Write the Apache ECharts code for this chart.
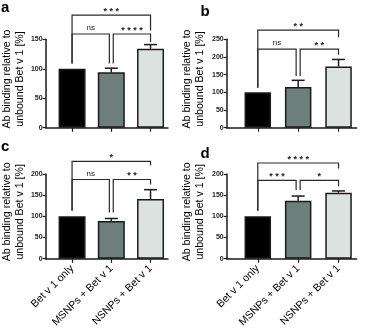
<!DOCTYPE html>
<html><head><meta charset="utf-8">
<script src="https://cdn.jsdelivr.net/npm/echarts@6/dist/echarts.min.js"></script>
<style>html,body{margin:0;padding:0;background:#fff}#c{width:367px;height:330px}</style>
</head><body><div id="c"></div>
<script>
const categories = ['Bet v 1 only', 'MSNPs + Bet v 1', 'NSNPs + Bet v 1'];
const yTitle = 'Ab binding relative to\nunbound Bet v 1 [%]';
const panelLetters = ['a', 'b', 'c', 'd'];

// Panel a
const meansA = [100, 94, 134];
const errA = [0, 7, 7];
const yMaxA = 150;
const bracketsA = [[0, 2, 191, 109, 165], [0, 0.95, 159, 109, 109], [1.05, 2, 159, 109, 145]];
const sigA = ['***', 'ns', '****'];
// Panel b
const meansB = [100, 115, 173];
const errB = [0, 19, 20];
const yMaxB = 250;
const bracketsB = [[0, 2, 276, 113, 256], [0, 0.95, 222, 113, 146], [1.05, 2, 222, 146, 206]];
const sigB = ['**', 'ns', '**'];
// Panel c
const meansC = [100, 89, 141];
const errC = [0, 6, 22];
const yMaxC = 200;
const bracketsC = [[0, 2, 230, 113, 220], [0, 0.95, 187, 113, 109], [1.05, 2, 187, 109, 175]];
const sigC = ['*', 'ns', '**'];
// Panel d
const meansD = [100, 137, 156];
const errD = [0, 11, 4];
const yMaxD = 200;
const bracketsD = [[0, 2, 226, 113, 213], [0, 0.95, 185, 113, 162], [1.05, 2, 185, 162, 171]];
const sigD = ['****', '***', '*'];

const yInterval = 50;
const barColors = ['#000000', '#6e7e7b', '#dbe2e0'];
const FONT = 'Liberation Sans, Arial, sans-serif';
const INK = '#1a1a1a';

const panels = [
  {means: meansA, err: errA, yMax: yMaxA, br: bracketsA, sig: sigA, showX: false,
   grid: {left: 41.7, top: 39.3, width: 126.3, height: 88.4}, xMin: -0.675, xMax: 2.445, bw: 27, gap: 14,
   letter: {left: 1, top: 0}},
  {means: meansB, err: errB, yMax: yMaxB, br: bracketsB, sig: sigB, showX: false,
   grid: {left: 226.7, top: 39.3, width: 130, height: 88.4}, xMin: -0.77, xMax: 2.45, bw: 26.5, gap: 20,
   letter: {left: 200.5, top: 4}},
  {means: meansC, err: errC, yMax: yMaxC, br: bracketsC, sig: sigC, showX: true,
   grid: {left: 41.7, top: 174, width: 126.3, height: 88.7}, xMin: -0.675, xMax: 2.445, bw: 27, gap: 16,
   letter: {left: 1, top: 139}},
  {means: meansD, err: errD, yMax: yMaxD, br: bracketsD, sig: sigD, showX: true,
   grid: {left: 226.7, top: 174, width: 130, height: 88.7}, xMin: -0.77, xMax: 2.45, bw: 26.5, gap: 20,
   letter: {left: 200.5, top: 146.5}}
];

const option = {animation: false, backgroundColor: '#fff', grid: [], xAxis: [], yAxis: [], series: [], title: []};

panels.forEach((p, k) => {
  option.title.push({text: panelLetters[k], left: p.letter.left, top: p.letter.top, padding: 0,
    textStyle: {fontFamily: FONT, fontSize: 15, fontWeight: 'bold', color: '#000'}});
  option.grid.push(Object.assign({containLabel: false}, p.grid));
  option.xAxis.push({
    type: 'value', gridIndex: k, min: p.xMin, max: p.xMax,
    splitLine: {show: false},
    axisLine: {show: true, onZero: false, lineStyle: {color: INK, width: 1.5}},
    axisTick: {show: true, customValues: [0, 1, 2], length: 4, lineStyle: {color: INK, width: 1.2}},
    axisLabel: {show: p.showX, customValues: [0, 1, 2], rotate: 45, margin: 8,
      fontFamily: FONT, fontSize: 10.6, color: '#000',
      formatter: v => categories[Math.round(v)] || ''}
  });
  option.yAxis.push({
    type: 'value', gridIndex: k, min: 0, max: p.yMax, interval: yInterval,
    splitLine: {show: false},
    axisLine: {show: true, onZero: false, lineStyle: {color: INK, width: 1.5}},
    axisTick: {show: true, length: 3, lineStyle: {color: INK, width: 1.2}},
    axisLabel: {fontFamily: FONT, fontSize: 7, fontWeight: 'bold', color: '#222', margin: 3},
    name: yTitle, nameLocation: 'middle', nameGap: p.gap, nameRotate: 90,
    nameTextStyle: {fontFamily: FONT, fontSize: 10.6, lineHeight: 13, color: '#000', padding: [0, 0, 0, 9]}
  });
  option.series.push({
    type: 'bar', xAxisIndex: k, yAxisIndex: k, barWidth: p.bw,
    data: p.means.map((v, i) => ({value: [i, v], itemStyle: {color: barColors[i]}})),
    itemStyle: {borderColor: INK, borderWidth: 1.5}, z: 2
  });
  option.series.push({
    type: 'custom', xAxisIndex: k, yAxisIndex: k, z: 3, clip: false,
    data: p.means.map((m, i) => [i, m, p.err[i]]),
    encode: {x: 0, y: 1},
    renderItem: function (params, api) {
      const x = api.value(0), m = api.value(1), e = api.value(2);
      if (!e) return {type: 'group', children: []};
      const a = api.coord([x, m]), b = api.coord([x, m + e]);
      const hw = 6.5;
      const st = {stroke: INK, lineWidth: 1.5};
      return {type: 'group', children: [
        {type: 'line', shape: {x1: a[0], y1: a[1], x2: b[0], y2: b[1]}, style: st},
        {type: 'line', shape: {x1: b[0] - hw, y1: b[1], x2: b[0] + hw, y2: b[1]}, style: st}
      ]};
    }
  });
  const sig = p.sig;
  option.series.push({
    type: 'custom', xAxisIndex: k, yAxisIndex: k, z: 4, clip: false,
    data: p.br,
    encode: {x: [0, 1], y: [2, 3, 4]},
    renderItem: function (params, api) {
      const x1 = api.value(0), x2 = api.value(1), yl = api.value(2), ya = api.value(3), yb = api.value(4);
      const p1 = api.coord([x1, ya]), p2 = api.coord([x1, yl]), p3 = api.coord([x2, yl]), p4 = api.coord([x2, yb]);
      const label = sig[params.dataIndex];
      const isStar = label.indexOf('*') >= 0;
      const txt = isStar ? label.split('').join(' ') : label;
      return {type: 'group', children: [
        {type: 'polyline', shape: {points: [p1, p2, p3, p4]}, style: {stroke: '#2a2a2a', lineWidth: 1.2, fill: null}},
        {type: 'text', x: (p2[0] + p3[0]) / 2, y: p2[1] - (isStar ? 3.7 : 6.2),
         style: {text: txt, font: (isStar ? 'bold 9px ' : '8px ') + FONT, fill: '#222',
           textAlign: 'center', textVerticalAlign: 'middle', align: 'center', verticalAlign: 'middle'}}
      ]};
    }
  });
});

const chart = echarts.init(document.getElementById('c'), null, {renderer: 'canvas'});
chart.setOption(option);
</script></body></html>
